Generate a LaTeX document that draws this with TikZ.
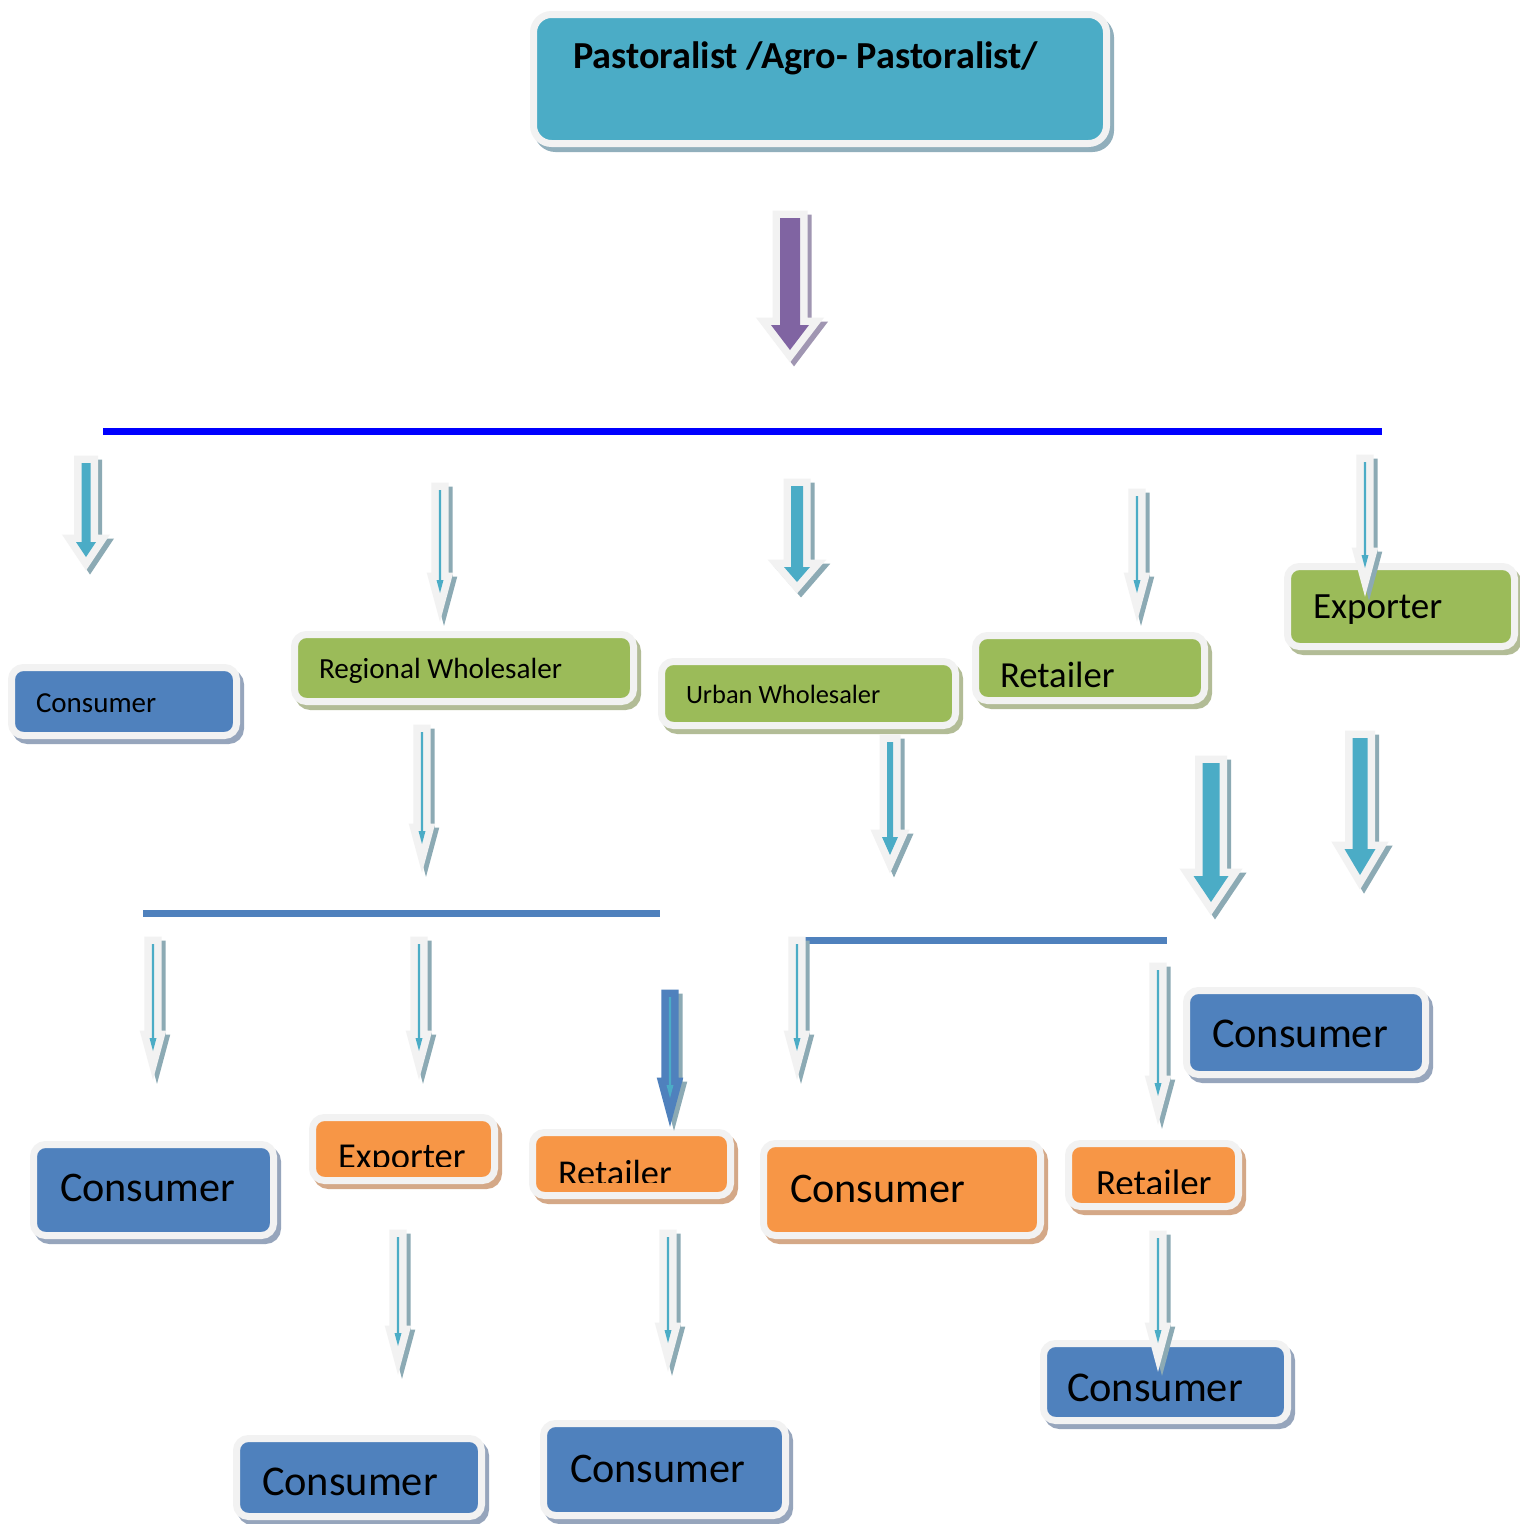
\documentclass[tikz,border=0pt]{standalone}
\usepackage{fontspec}
\setmainfont{Carlito}
\definecolor{cteal}{HTML}{4BACC6}
\definecolor{cgreen}{HTML}{9BBB59}
\definecolor{cblue}{HTML}{4F81BD}
\definecolor{corange}{HTML}{F79646}
\definecolor{cpurple}{HTML}{8064A2}
\definecolor{clight}{HTML}{F2F2F2}
\definecolor{shteal}{RGB}{145,175,188}
\definecolor{shgreen}{RGB}{178,188,150}
\definecolor{shblue}{RGB}{150,165,188}
\definecolor{shorange}{RGB}{212,168,135}
\definecolor{sharrow}{RGB}{140,170,180}
\definecolor{shpurple}{RGB}{160,150,178}
\definecolor{linebl}{RGB}{0,0,255}
\newcommand\fs[1]{\fontsize{#1pt}{#1pt}\selectfont}
% box: [opts] name x1 y1 x2 y2 fill shadow  (inner coloured rectangle)
\newcommand\bx[8][]{%
  \node[boxs, fill=#7, preaction={fill=#8, draw=#8, transform canvas={xshift=4pt,yshift=-5pt}},
        minimum width={(#5-#3+7)*1pt}, minimum height={(#6-#4+7)*1pt}, #1]
        (#2) at ({(#3+#5)/2},{(#4+#6)/2}) {};}
% arrow: x ytop yhead ytip shafthalf headhalf fill border shadow
\newcommand\darr[9]{%
  \path[fill=#9, draw=#9, line width=15pt, line join=miter, transform canvas={xshift=4pt,yshift=-4pt}]
    ({#1-#5},{#2}) -- ({#1+#5},{#2}) -- ({#1+#5},{#3}) -- ({#1+#6},{#3}) -- ({#1},{#4})
    -- ({#1-#6},{#3}) -- ({#1-#5},{#3}) -- cycle;
  \path[fill=#8, draw=#8, line width=15pt, line join=miter]
    ({#1-#5},{#2}) -- ({#1+#5},{#2}) -- ({#1+#5},{#3}) -- ({#1+#6},{#3}) -- ({#1},{#4})
    -- ({#1-#6},{#3}) -- ({#1-#5},{#3}) -- cycle;
  \fill[#7]
    ({#1-#5},{#2}) -- ({#1+#5},{#2}) -- ({#1+#5},{#3}) -- ({#1+#6},{#3}) -- ({#1},{#4})
    -- ({#1-#6},{#3}) -- ({#1-#5},{#3}) -- cycle;}
\begin{document}
\begin{tikzpicture}[x=1pt,y=-1pt,
  boxs/.style={draw=clight, line width=7pt, rounded corners=12pt, inner sep=0pt, outer sep=0pt},
  lbl/.style={anchor=base west, inner sep=0pt, outer sep=0pt, text=black},
  hline/.style={line width=7pt}]
\useasboundingbox[fill=white] (0,0) rectangle (1520,1524);

% boxes
\bx[rounded corners=18pt]{top}{537}{18}{1103}{140}{cteal}{shteal}
\bx{c1}{15}{671}{233}{732}{cblue}{shblue}
\bx{rw}{298}{638}{630}{698}{cgreen}{shgreen}
\bx{uw}{665}{665}{952}{722}{cgreen}{shgreen}
\bx{rg}{979}{639}{1201}{697}{cgreen}{shgreen}
\bx{eg}{1291}{570}{1511}{643}{cgreen}{shgreen}
\bx{c2}{1190}{994}{1422}{1071}{cblue}{shblue}
\bx{c3}{37}{1148}{270}{1232}{cblue}{shblue}
\bx{eo}{316}{1121}{491}{1177}{corange}{shorange}
\bx{ro1}{536}{1136}{727}{1192}{corange}{shorange}
\bx{co}{767}{1147}{1037}{1232}{corange}{shorange}
\bx{ro2}{1072}{1147}{1235}{1203}{corange}{shorange}
\bx{c4}{1047}{1347}{1284}{1417}{cblue}{shblue}
\bx{c5}{240}{1442}{478}{1513}{cblue}{shblue}
\bx{c6}{547}{1427}{782}{1512}{cblue}{shblue}

% texts
\node[lbl,font=\bfseries\fs{38.2}] (ttop) at (573,68) {Pastoralist /Agro- Pastoralist/};
\node[lbl,font=\fs{29}] (tc1) at (36,712) {Consumer};
\node[lbl,font=\fs{29.2}] (trw) at (319,678) {Regional Wholesaler};
\node[lbl,font=\fs{26.4}] (tuw) at (686,703) {Urban Wholesaler};
\node[lbl,font=\fs{36.7}] (trg) at (1000,687) {Retailer};
\node[lbl,font=\fs{37}] (teg) at (1313,618) {Exporter};
\node[lbl,font=\fs{42.4}] (tc2) at (1212,1047) {Consumer};
\node[lbl,font=\fs{42.2}] (tc3) at (60,1201) {Consumer};
\begin{scope}
  \clip (316,1100) rectangle (491,1166);
  \node[lbl,font=\fs{36.5}] (teo) at (338,1168) {Exporter};
\end{scope}
\begin{scope}
  \clip (536,1120) rectangle (727,1182);
  \node[lbl,font=\fs{36.4}] (tro1) at (558,1185) {Retailer};
\end{scope}
\node[lbl,font=\fs{42.2}] (tco) at (790,1202) {Consumer};
\begin{scope}
  \clip (1072,1140) rectangle (1235,1193);
  \node[lbl,font=\fs{37}] (tro2) at (1096,1195) {Retailer};
\end{scope}
\node[lbl,font=\fs{42.4}] (tc4) at (1067,1401) {Consumer};
\node[lbl,font=\fs{42.4}] (tc5) at (262,1495) {Consumer};
\node[lbl,font=\fs{42.2}] (tc6) at (570,1482) {Consumer};

% horizontal lines
\coordinate (l1a) at (103,431); \coordinate (l1b) at (1382,431);
\coordinate (l2a) at (143,913); \coordinate (l2b) at (660,913);
\coordinate (l3a) at (805,940); \coordinate (l3b) at (1167,940);
\draw[hline, linebl] (l1a) -- (l1b);
\draw[hline, cblue] (l2a) -- (l2b);
\draw[hline, cblue] (l3a) -- (l3b);

% arrows
\darr{790}{218}{325}{350}{10}{19}{cpurple}{clight}{shpurple}
\darr{86}{463}{542}{557}{4.5}{10}{cteal}{clight}{sharrow}
\darr{440}{490}{580}{593}{1.2}{3.5}{cteal}{clight}{sharrow}
\darr{797}{486}{567}{582}{6}{13}{cteal}{clight}{sharrow}
\darr{1137}{496}{580}{593}{1.2}{3.5}{cteal}{clight}{sharrow}
\darr{1365}{462}{555}{568}{1.2}{3.5}{cteal}{clight}{sharrow}
\darr{422}{732}{831}{844}{1.2}{3.5}{cteal}{clight}{sharrow}
\darr{890}{742}{837}{855}{3}{8}{cteal}{clight}{sharrow}
\darr{1211}{763}{876}{902}{8.5}{17.5}{cteal}{clight}{sharrow}
\darr{1360}{738}{849}{875}{7.5}{15.5}{cteal}{clight}{sharrow}
\darr{153}{944}{1038}{1051}{1.2}{3.5}{cteal}{clight}{sharrow}
\darr{419}{944}{1038}{1051}{1.2}{3.5}{cteal}{clight}{sharrow}
\darr{670}{997}{1085}{1098}{1.2}{3.5}{cteal}{cblue}{sharrow}
\darr{797}{944}{1038}{1051}{1.2}{3.5}{cteal}{clight}{sharrow}
\darr{1158}{970}{1083}{1096}{1.2}{3.5}{cteal}{clight}{sharrow}
\darr{398}{1237}{1333}{1346}{1.2}{3.5}{cteal}{clight}{sharrow}
\darr{668}{1237}{1330}{1343}{1.2}{3.5}{cteal}{clight}{sharrow}
\darr{1158}{1238}{1330}{1343}{1.2}{3.5}{cteal}{clight}{sharrow}
\end{tikzpicture}
\end{document}
